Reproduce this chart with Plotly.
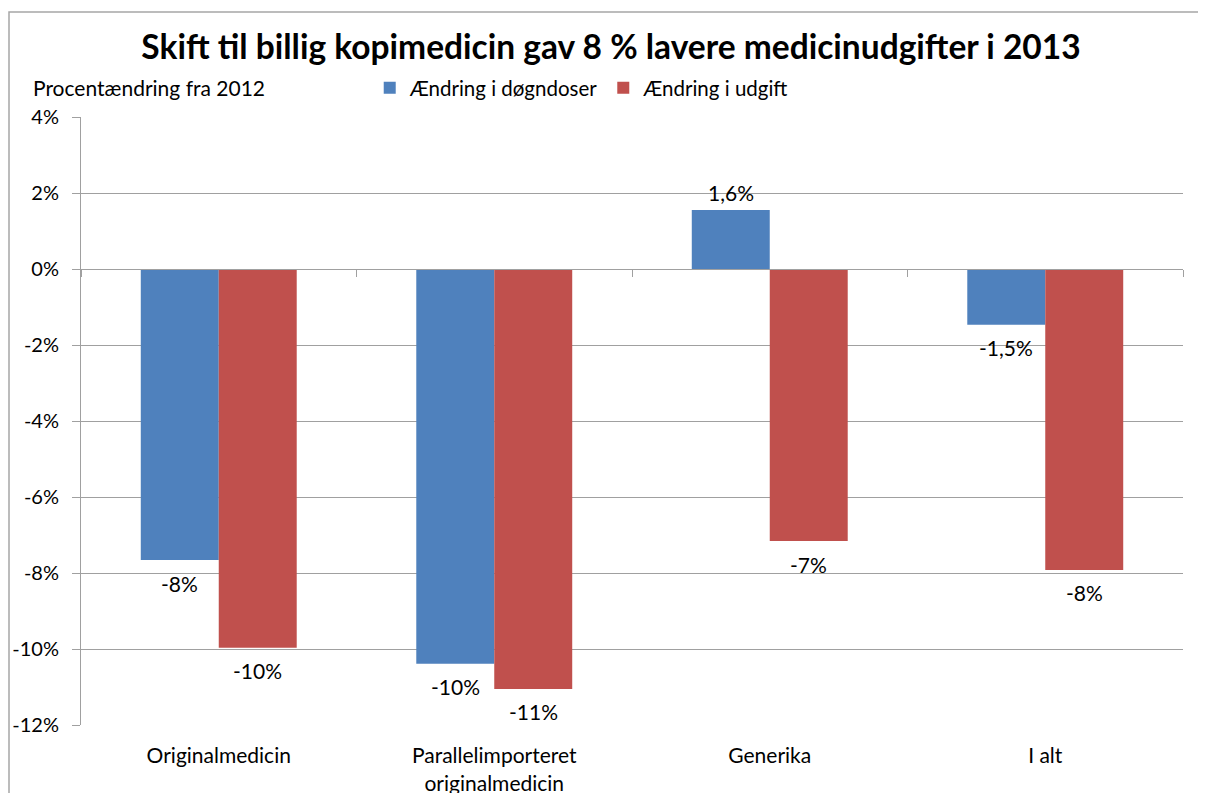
import plotly.graph_objects as go

categories = ["Originalmedicin", "Parallelimporteret<br>originalmedicin", "Generika", "I alt"]
dogndoser = [-7.66, -10.39, 1.55, -1.47]
udgift = [-9.97, -11.05, -7.16, -7.92]
dogndoser_labels = ["-8%", "-10%", "1,6%", "-1,5%"]
udgift_labels = ["-10%", "-11%", "-7%", "-8%"]
y_ticks = [4, 2, 0, -2, -4, -6, -8, -10, -12]
y_ticktext = ["4%", "2%", "0%", "-2%", "-4%", "-6%", "-8%", "-10%", "-12%"]

FONT = "Lato"
BLUE = "#4F81BD"
RED = "#C0504D"
GRID = "#A0A0A0"

W, H = 1198, 785  # page body has an 8px margin
L, T = 73, 109
PW, PH = 1102, 608

fig = go.Figure()
fig.add_trace(go.Bar(x=categories, y=dogndoser, name="Ændring i døgndoser",
                     marker=dict(color=BLUE, line=dict(width=0))))
fig.add_trace(go.Bar(x=categories, y=udgift, name="Ændring i udgift",
                     marker=dict(color=RED, line=dict(width=0))))

annotations = []
for series, labels, shift in ((dogndoser, dogndoser_labels, -39), (udgift, udgift_labels, 39)):
    for c, v, t in zip(categories, series, labels):
        annotations.append(dict(x=c, y=v, xref="x", yref="y", text=t, showarrow=False,
                                xshift=shift, yshift=(18 if v > 0 else -23),
                                font=dict(family=FONT, size=21, color="#000000")))

annotations.append(dict(text="Procentændring fra 2012", xref="paper", yref="paper",
                        x=-0.0454, y=1.049, xanchor="left", yanchor="middle", showarrow=False,
                        font=dict(family=FONT, size=21, color="#000000")))

fig.update_layout(
    width=W, height=H,
    margin=dict(l=L, r=W - L - PW, t=T, b=H - T - PH, autoexpand=False),
    paper_bgcolor="white", plot_bgcolor="white",
    barmode="group", bargap=0.434, bargroupgap=0,
    title=dict(text="<b>Skift til billig kopimedicin gav 8 % lavere medicinudgifter i 2013</b>",
               xref="container", x=603 / W, xanchor="center",
               yref="container", y=1 - 39 / H, yanchor="middle",
               font=dict(family=FONT, size=33.5, color="#000000")),
    legend=dict(orientation="h", x=0.262, y=1.0477, xanchor="left", yanchor="middle",
                font=dict(family=FONT, size=20.5, color="#000000"), itemwidth=30,
                bgcolor="rgba(0,0,0,0)"),
    annotations=annotations,
    showlegend=True,
)

fig.update_yaxes(range=[-12, 4], tickvals=y_ticks, ticktext=y_ticktext,
                 showgrid=True, gridcolor=GRID, gridwidth=1, zeroline=False,
                 showline=True, linecolor=GRID, linewidth=1,
                 ticks="outside", ticklen=8, tickcolor=GRID, ticklabelstandoff=9,
                 automargin=False,
                 tickfont=dict(family=FONT, size=20, color="#000000"))
fig.update_xaxes(type="category", showgrid=False, showline=False, zeroline=False,
                 ticks="outside", ticklen=12, tickcolor="rgba(0,0,0,0)", automargin=False,
                 tickfont=dict(family=FONT, size=21, color="#000000"))

# horizontal category axis crossing at 0 with boundary tick marks
fig.update_layout(xaxis2=dict(overlaying="x", anchor="free", position=0.75, side="bottom",
                              range=[0, 4], tickvals=[0, 1, 2, 3, 4], showticklabels=False,
                              showline=True, linecolor=GRID, linewidth=1, showgrid=False,
                              zeroline=False, ticks="outside", ticklen=7, tickcolor=GRID))
fig.add_trace(go.Scatter(x=[0, 4], y=[0, 0], xaxis="x2", mode="lines",
                         line=dict(width=0), showlegend=False, hoverinfo="skip"))

# chart border
fig.add_shape(type="rect", xref="paper", yref="paper",
              x0=-72 / PW, x1=1.2, y0=-0.2, y1=(T + PH - 4) / PH,
              line=dict(color="#A6A6A6", width=1.5), fillcolor="rgba(0,0,0,0)", layer="below")

fig.write_html("out.html")
